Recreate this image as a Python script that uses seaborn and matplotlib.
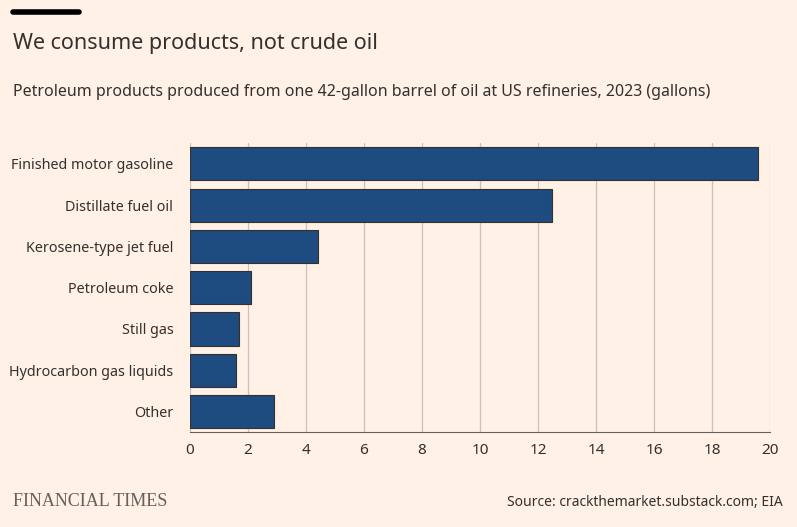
import matplotlib
matplotlib.use("Agg")
import matplotlib.pyplot as plt
import seaborn as sns
import pandas as pd

categories = ["Finished motor gasoline", "Distillate fuel oil", "Kerosene-type jet fuel",
              "Petroleum coke", "Still gas", "Hydrocarbon gas liquids", "Other"]
values = [19.6, 12.5, 4.4, 2.1, 1.7, 1.6, 2.9]
xticks = [0, 2, 4, 6, 8, 10, 12, 14, 16, 18, 20]

bg = "#FFF1E5"
sns.set_style("white")
plt.rcParams['font.family'] = ['Noto Sans', 'DejaVu Sans']

fig = plt.figure(figsize=(7.97, 5.27), dpi=100, facecolor=bg)
ax = fig.add_axes([0.2384, 0.180, 0.7277, 0.548], facecolor=bg)
df = pd.DataFrame({"cat": categories, "val": values})
sns.barplot(data=df, y="cat", x="val", color="#1E4B80", edgecolor="#33302E",
            linewidth=0.8, width=0.8, saturation=1, ax=ax, zorder=3)
ax.set_xlim(0, 20)
ax.set_xticks(xticks)
ax.set_xticklabels([str(t) for t in xticks], fontsize=11, color="#33302E")
ax.tick_params(axis='y', labelsize=10.3, colors="#33302E", length=0, pad=12)
ax.tick_params(axis='x', length=5, color="#66605C", pad=3)
ax.set_xlabel(""); ax.set_ylabel("")
ax.grid(axis='x', color="#CCC1B7", linewidth=0.9, zorder=0)
for s in ["top", "right", "left"]:
    ax.spines[s].set_visible(False)
ax.spines["bottom"].set_color("#66605C")

fig.add_artist(plt.Line2D([13/797, 79/797], [1-12/527, 1-12/527], color="#000000", linewidth=4))
fig.text(13/797, 1-43/527, "We consume products, not crude oil", fontsize=15.5, color="#33302E", va="center")
fig.text(13/797, 1-92/527, "Petroleum products produced from one 42-gallon barrel of oil at US refineries, 2023 (gallons)",
         fontsize=11.5, color="#33302E", va="center")
fig.text(13/797, 1-502/527, "FINANCIAL TIMES", fontsize=13, color="#66605C", va="center",
         family=["Liberation Serif", "DejaVu Serif"])
fig.text(783/797, 1-503/527, "Source: crackthemarket.substack.com; EIA", fontsize=10, color="#33302E",
         va="center", ha="right")
fig.savefig("out.png", dpi=100, facecolor=bg)
